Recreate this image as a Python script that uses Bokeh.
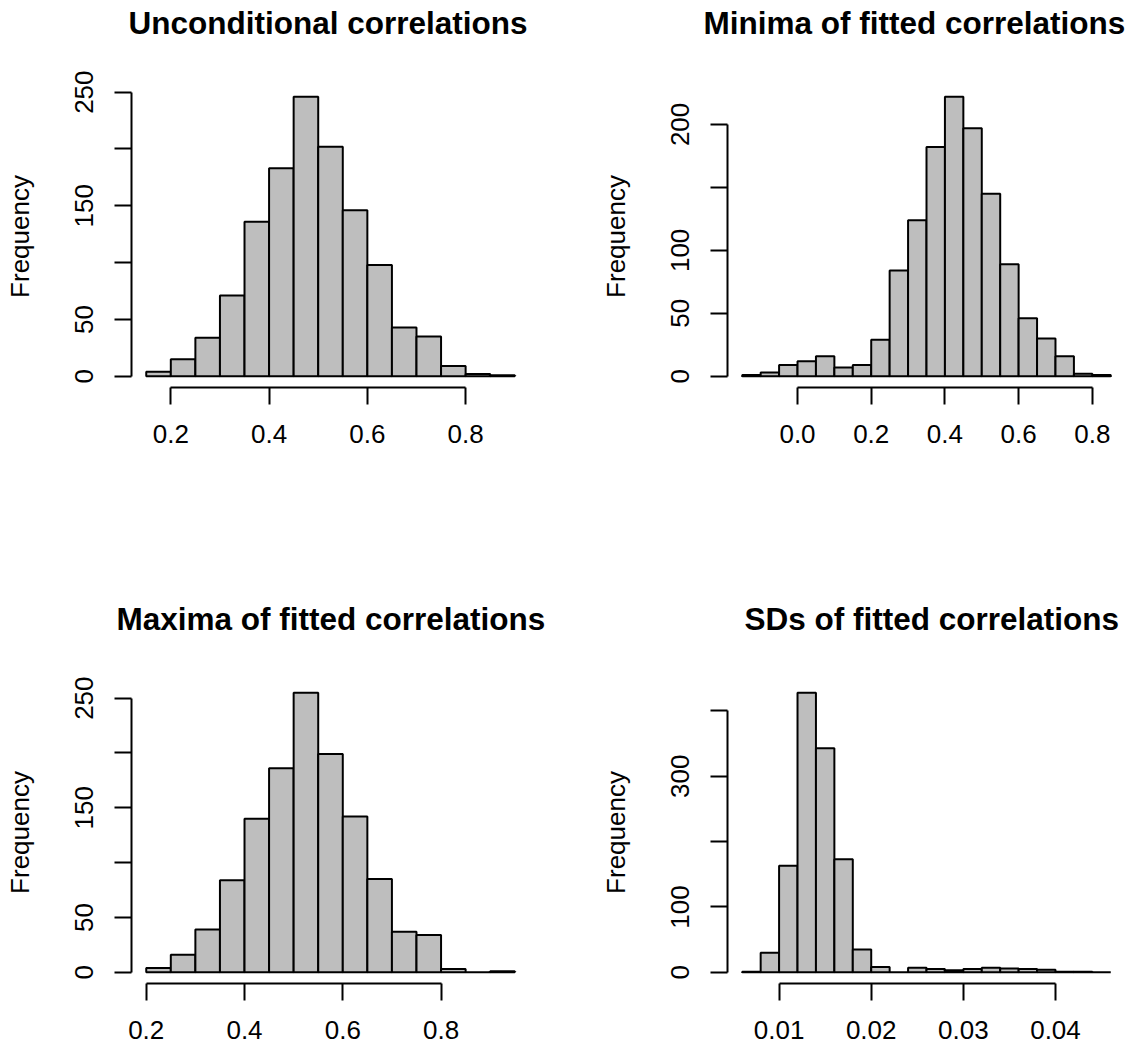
from bokeh.plotting import figure
from bokeh.layouts import gridplot
from bokeh.models import Range1d, FixedTicker, Title
from bokeh.embed import file_html
from bokeh.resources import INLINE

# ---------------- data ----------------
uncond_breaks = [0.15, 0.20, 0.25, 0.30, 0.35, 0.40, 0.45, 0.50, 0.55, 0.60,
                 0.65, 0.70, 0.75, 0.80, 0.85, 0.90]
uncond_counts = [4, 15, 34, 71, 136, 183, 246, 202, 146, 98, 43, 35, 9, 2, 1]

minima_breaks = [-0.15, -0.10, -0.05, 0.00, 0.05, 0.10, 0.15, 0.20, 0.25, 0.30,
                 0.35, 0.40, 0.45, 0.50, 0.55, 0.60, 0.65, 0.70, 0.75, 0.80, 0.85]
minima_counts = [1, 3, 9, 12, 16, 7, 9, 29, 84, 124, 182, 222, 197, 145, 89,
                 46, 30, 16, 2, 1]

maxima_breaks = [0.20, 0.25, 0.30, 0.35, 0.40, 0.45, 0.50, 0.55, 0.60, 0.65,
                 0.70, 0.75, 0.80, 0.85, 0.90, 0.95]
maxima_counts = [4, 16, 39, 84, 140, 186, 255, 199, 142, 85, 37, 34, 3, 0, 1]

sd_breaks = [0.006, 0.008, 0.010, 0.012, 0.014, 0.016, 0.018, 0.020, 0.022, 0.024,
             0.026, 0.028, 0.030, 0.032, 0.034, 0.036, 0.038, 0.040, 0.042, 0.044, 0.046]
sd_counts = [1, 30, 163, 428, 343, 173, 35, 8, 0, 7, 5, 3, 5, 7, 6, 5, 4, 1, 1, 0]

titles = ["Unconditional correlations", "Minima of fitted correlations",
          "Maxima of fitted correlations", "SDs of fitted correlations"]

uncond_xticks = [0.2, 0.4, 0.6, 0.8]
uncond_xlabels = ["0.2", "0.4", "0.6", "0.8"]
uncond_yticks = [0, 50, 100, 150, 200, 250]
uncond_ylabels = ["0", "50", "", "150", "", "250"]

minima_xticks = [0.0, 0.2, 0.4, 0.6, 0.8]
minima_xlabels = ["0.0", "0.2", "0.4", "0.6", "0.8"]
minima_yticks = [0, 50, 100, 150, 200]
minima_ylabels = ["0", "50", "100", "", "200"]

maxima_xticks = [0.2, 0.4, 0.6, 0.8]
maxima_xlabels = ["0.2", "0.4", "0.6", "0.8"]
maxima_yticks = [0, 50, 100, 150, 200, 250]
maxima_ylabels = ["0", "50", "", "150", "", "250"]

sd_xticks = [0.01, 0.02, 0.03, 0.04]
sd_xlabels = ["0.01", "0.02", "0.03", "0.04"]
sd_yticks = [0, 100, 200, 300, 400]
sd_ylabels = ["0", "100", "", "300", ""]

FONT = "Liberation Sans"


def padded(lo, hi, frac=0.04):
    d = (hi - lo) * frac
    return lo - d, hi + d


def panel(breaks, counts, xticks, xlabels, yticks, ylabels, title, title_dx,
          borders):
    left, right, top, bottom = borders
    x0, x1 = padded(breaks[0], breaks[-1])
    y0, y1 = padded(0, max(counts))
    p = figure(width=573, height=524, x_range=Range1d(x0, x1), y_range=Range1d(y0, y1),
               output_backend="svg", toolbar_location=None,
               min_border_left=left, min_border_right=right,
               min_border_top=top, min_border_bottom=bottom)
    p.outline_line_color = None
    p.background_fill_color = "white"
    p.border_fill_color = "white"
    p.xgrid.visible = False
    p.ygrid.visible = False

    p.quad(left=breaks[:-1], right=breaks[1:], bottom=0, top=counts,
           fill_color="#BEBEBE", line_color="black", line_width=2)

    for ax in (p.xaxis[0], p.yaxis[0]):
        ax.axis_line_width = 2
        ax.axis_line_color = "black"
        ax.major_tick_line_width = 2
        ax.major_tick_line_color = "black"
        ax.major_tick_in = 0
        ax.major_tick_out = 17
        ax.minor_tick_line_color = None
        ax.major_label_text_font = FONT
        ax.major_label_text_font_size = "26px"
        ax.major_label_text_color = "black"

    xa = p.xaxis[0]
    xa.ticker = FixedTicker(ticks=xticks)
    xa.major_label_overrides = {t: s for t, s in zip(xticks, xlabels)}
    xa.bounds = (xticks[0], xticks[-1])
    xa.major_label_standoff = 20

    ya = p.yaxis[0]
    ya.ticker = FixedTicker(ticks=yticks)
    ya.major_label_overrides = {t: s for t, s in zip(yticks, ylabels)}
    ya.bounds = (yticks[0], yticks[-1])
    ya.major_label_orientation = "vertical"
    ya.major_label_standoff = 21
    ya.axis_label = "Frequency"
    ya.axis_label_text_font = FONT
    ya.axis_label_text_font_size = "26px"
    ya.axis_label_text_font_style = "normal"
    ya.axis_label_text_color = "black"
    ya.axis_label_standoff = 38

    # spacer next to the frame, then the bold title above it
    spacer = Title(text=" ", text_font_size="2px", standoff=41)
    p.add_layout(spacer, "above")
    ttl = Title(text=title, text_font=FONT, text_font_size="31.5px",
                text_font_style="bold", text_color="black",
                align="left", offset=title_dx, standoff=0)
    p.add_layout(ttl, "above")
    return p


p1 = panel(uncond_breaks, uncond_counts, uncond_xticks, uncond_xlabels,
           uncond_yticks, uncond_ylabels, titles[0], -3, (131, 44, 85, 137))
p2 = panel(minima_breaks, minima_counts, minima_xticks, minima_xlabels,
           minima_yticks, minima_ylabels, titles[1], -24, (154, 21, 85, 137))
p3 = panel(maxima_breaks, maxima_counts, maxima_xticks, maxima_xlabels,
           maxima_yticks, maxima_ylabels, titles[2], -15, (131, 44, 157, 65))
p4 = panel(sd_breaks, sd_counts, sd_xticks, sd_xlabels,
           sd_yticks, sd_ylabels, titles[3], 17, (154, 21, 157, 65))

grid = gridplot([[p1, p2], [p3, p4]], toolbar_location=None)

open("out.html", "w").write(file_html(grid, INLINE))
